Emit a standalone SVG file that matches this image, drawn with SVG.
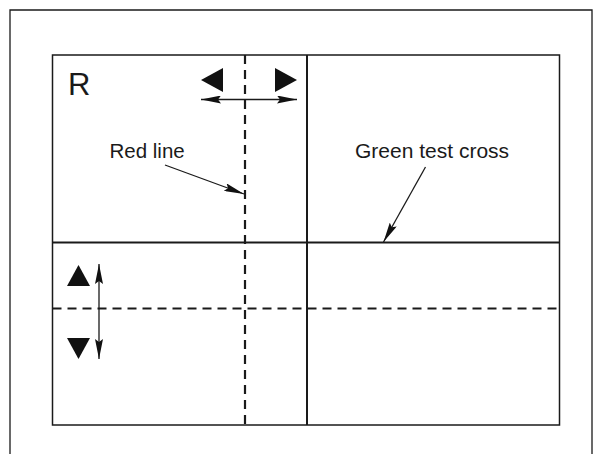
<svg xmlns="http://www.w3.org/2000/svg" width="595" height="454" viewBox="0 0 595 454">
<defs>
<style>
.ln{stroke:#1a1a1a;fill:none}
.txt{font-family:"Liberation Sans",Arial,sans-serif;fill:#1a1a1a}
.tri{fill:#111}
.dash{stroke:#1a1a1a;stroke-width:2.2;stroke-dasharray:9 6;fill:none}
</style>
<marker id="ah" viewBox="0 0 20 8" refX="20" refY="4" markerWidth="20" markerHeight="8" markerUnits="userSpaceOnUse" orient="auto-start-reverse">
<path d="M0,0 L20,4 L0,8 L3,4 Z" fill="#111"/>
</marker>
</defs>
<rect width="595" height="454" fill="#fff"/>
<g id="frame">
<polyline class="ln" stroke-width="1.3" points="10,454 10,10 592,10 592,454"/>
</g>
<g id="screen">
<rect class="ln" stroke-width="1.5" x="52.5" y="55" width="507" height="370"/>
<line class="ln" stroke-width="2" x1="307" y1="55" x2="307" y2="425"/>
<line class="ln" stroke-width="2" x1="52.5" y1="242.5" x2="559.5" y2="242.5"/>
<text class="txt" x="68" y="95" font-size="31">R</text>
</g>
<g id="red-line">
<line class="dash" x1="245" y1="55" x2="245" y2="425"/>
<line class="dash" x1="52.5" y1="308.5" x2="559.5" y2="308.5"/>
</g>
<g id="move-indicators">
<polygon class="tri" points="201,80 223,68 223,92"/>
<polygon class="tri" points="297,80 275,68 275,92"/>
<polygon class="tri" points="78.5,265 67,286 90,286"/>
<polygon class="tri" points="78.5,359 67,338 90,338"/>
</g>
<g id="connectors">
<line class="ln" stroke-width="1.3" x1="201" y1="99.5" x2="297" y2="99.5" marker-start="url(#ah)" marker-end="url(#ah)"/>
<line class="ln" stroke-width="1.3" x1="99" y1="264" x2="99" y2="359" marker-start="url(#ah)" marker-end="url(#ah)"/>
<line class="ln" stroke-width="1.3" x1="165" y1="165" x2="244" y2="194" marker-end="url(#ah)"/>
<line class="ln" stroke-width="1.3" x1="425.5" y1="167" x2="383.5" y2="242" marker-end="url(#ah)"/>
</g>
<g id="labels">
<text class="txt" x="109.5" y="158" font-size="20.5">Red line</text>
<text class="txt" x="355" y="158" font-size="21">Green test cross</text>
</g>
</svg>
